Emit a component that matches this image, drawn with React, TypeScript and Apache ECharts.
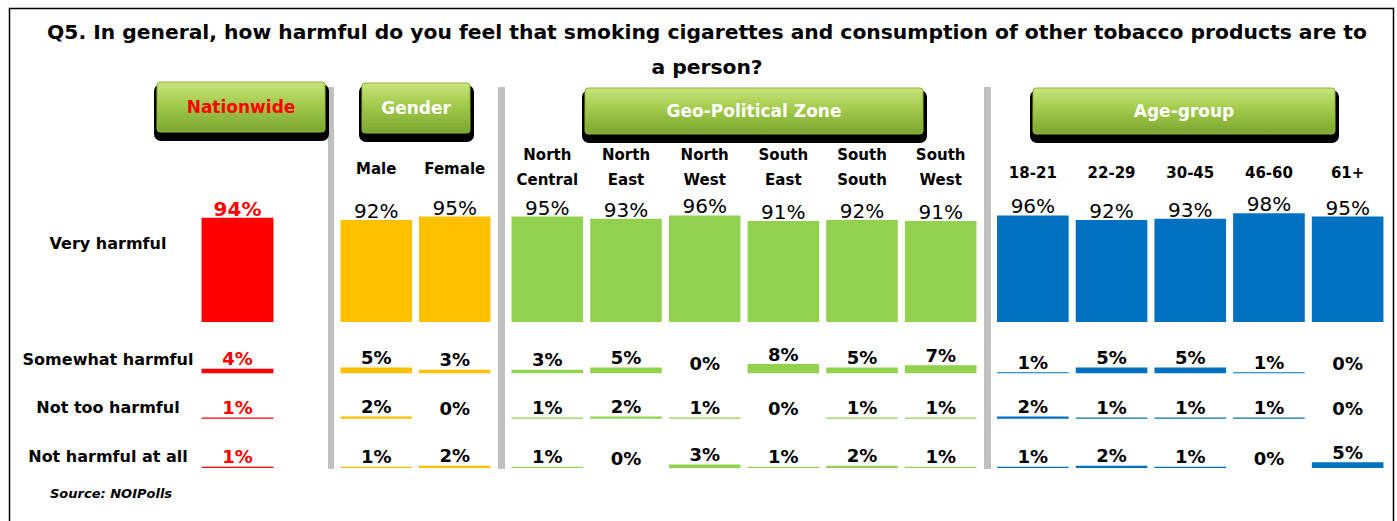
import React, { useEffect, useRef } from "react";
import * as echarts from "echarts";

const titleText =
  "Q5. In general, how harmful do you feel that smoking cigarettes and consumption of other tobacco products are to\na person?";
const sourceText = "Source: NOIPolls";

const categories = [
  "Nationwide",
  "Male",
  "Female",
  "North\nCentral",
  "North\nEast",
  "North\nWest",
  "South\nEast",
  "South\nSouth",
  "South\nWest",
  "18-21",
  "22-29",
  "30-45",
  "46-60",
  "61+",
];
const groupNames = ["Nationwide", "Gender", "Geo-Political Zone", "Age-group"];
const groupSizes = [1, 2, 6, 5];
const rowLabels = ["Very harmful", "Somewhat harmful", "Not too harmful", "Not harmful at all"];

const veryHarmful = [94, 92, 95, 95, 93, 96, 91, 92, 91, 96, 92, 93, 98, 95];
const somewhatHarmful = [4, 5, 3, 3, 5, 0, 8, 5, 7, 1, 5, 5, 1, 0];
const notTooHarmful = [1, 2, 0, 1, 2, 1, 0, 1, 1, 2, 1, 1, 1, 0];
const notHarmfulAtAll = [1, 1, 2, 1, 0, 3, 1, 2, 1, 1, 2, 1, 0, 5];
const rows = [veryHarmful, somewhatHarmful, notTooHarmful, notHarmfulAtAll];

// layout & style (not data)
const FONT = "'DejaVu Sans', sans-serif";
const groupColors = ["#FF0000", "#FFC000", "#92D050", "#0070C0"];
const groupLayout = [
  { left: 198, width: 79 },
  { left: 337, width: 157 },
  { left: 508, width: 472 },
  { left: 993.5, width: 393.5 },
];
const rowLayout = [
  { bottom: 322, height: 111, max: 100 },
  { bottom: 373.3, height: 11.5, max: 10 },
  { bottom: 418.7, height: 11.5, max: 10 },
  { bottom: 468, height: 11.5, max: 10 },
];
const rowLabelY = [243, 359, 407, 456];
const catLabelMargin = [0, 42, 43.5, 38];
const buttons = [
  { x: 157, y: 82, w: 168, h: 50, color: "#FF0000" },
  { x: 362, y: 83, w: 108, h: 50, color: "#FFFFFF" },
  { x: 585, y: 88, w: 338, h: 46, color: "#FFFFFF" },
  { x: 1033, y: 88, w: 302, h: 46, color: "#FFFFFF" },
];
const separators = [
  { x: 328, w: 6 },
  { x: 498, w: 7 },
  { x: 984, w: 7 },
];

export default function App() {
  const ref = useRef<HTMLDivElement>(null);

  useEffect(() => {
    document.body.style.margin = "0";
    const chart = echarts.init(ref.current!, null, { renderer: "svg" });

    const grid: any[] = [];
    const xAxis: any[] = [];
    const yAxis: any[] = [];
    const series: any[] = [];

    rows.forEach((rowValues, r) => {
      const rl = rowLayout[r];
      let start = 0;
      groupSizes.forEach((size, g) => {
        const gl = groupLayout[g];
        const idx = grid.length;
        grid.push({
          left: gl.left,
          width: gl.width,
          top: rl.bottom - rl.height,
          height: rl.height,
          containLabel: false,
        });
        const cats = categories.slice(start, start + size);
        const vals = rowValues.slice(start, start + size);
        start += size;
        xAxis.push({
          type: "category",
          gridIndex: idx,
          data: cats,
          position: "top",
          show: r === 0 && g > 0,
          axisLine: { show: false },
          axisTick: { show: false },
          axisLabel: {
            show: r === 0 && g > 0,
            margin: catLabelMargin[g],
            verticalAlign: "middle",
            fontFamily: FONT,
            fontWeight: "bold",
            fontSize: 15,
            lineHeight: 25,
            color: "#000",
            interval: 0,
          },
        });
        yAxis.push({
          type: "value",
          gridIndex: idx,
          min: 0,
          max: rl.max,
          show: false,
        });
        const isNat = g === 0;
        series.push({
          type: "bar",
          xAxisIndex: idx,
          yAxisIndex: idx,
          data: vals,
          barWidth: "91%",
          itemStyle: { color: groupColors[g] },
          label: {
            show: true,
            position: "top",
            distance: r === 0 ? 0 : 2,
            formatter: "{c}%",
            fontFamily: FONT,
            fontSize: r === 0 ? 20 : 18,
            lineHeight: r === 0 ? 18 : 16,
            fontWeight: isNat || r > 0 ? "bold" : "normal",
            color: isNat ? "#FF0000" : "#000",
          },
        });
      });
    });

    const graphic: any[] = [
      {
        type: "rect",
        shape: { x: 9.5, y: 8.5, width: 1384, height: 530 },
        style: { fill: "none", stroke: "#000", lineWidth: 1.5 },
        z: -10,
      },
      {
        type: "text",
        x: 707,
        y: 14,
        style: {
          text: titleText,
          align: "center",
          verticalAlign: "top",
          font: `bold 20.3px ${FONT}`,
          lineHeight: 35,
          fill: "#000",
        },
      },
      ...separators.map((s) => ({
        type: "rect",
        shape: { x: s.x, y: 87, width: s.w, height: 382 },
        style: { fill: "#C0C0C0" },
        z: -5,
      })),
      ...buttons.flatMap((b, i) => [
        {
          type: "rect",
          shape: { x: b.x - 3, y: b.y + 2, width: b.w + 7, height: b.h + 7, r: 7 },
          style: { fill: "#000" },
        },
        {
          type: "rect",
          shape: { x: b.x, y: b.y, width: b.w, height: b.h, r: 3 },
          style: {
            fill: new echarts.graphic.LinearGradient(0, 0, 0, 1, [
              { offset: 0, color: "#C8E47C" },
              { offset: 0.45, color: "#A2CA4B" },
              { offset: 1, color: "#7BA630" },
            ]),
            stroke: "#8DB43A",
            lineWidth: 1,
          },
        },
        {
          type: "text",
          x: b.x + b.w / 2,
          y: b.y + b.h / 2,
          style: {
            text: groupNames[i],
            align: "center",
            verticalAlign: "middle",
            font: `bold 17px ${FONT}`,
            fill: b.color,
          },
        },
      ]),
      ...rowLabels.map((t, i) => ({
        type: "text",
        x: 108,
        y: rowLabelY[i],
        style: {
          text: t,
          align: "center",
          verticalAlign: "middle",
          font: `bold 16px ${FONT}`,
          fill: "#000",
        },
      })),
      {
        type: "text",
        x: 50,
        y: 493,
        style: {
          text: sourceText,
          align: "left",
          verticalAlign: "middle",
          font: `italic bold 13px ${FONT}`,
          fill: "#000",
        },
      },
    ];

    chart.setOption({
      animation: false,
      backgroundColor: "#fff",
      grid,
      xAxis,
      yAxis,
      series,
      graphic,
    });

    return () => chart.dispose();
  }, []);

  return <div ref={ref} style={{ width: 1397, height: 521, overflow: "hidden" }} />;
}
